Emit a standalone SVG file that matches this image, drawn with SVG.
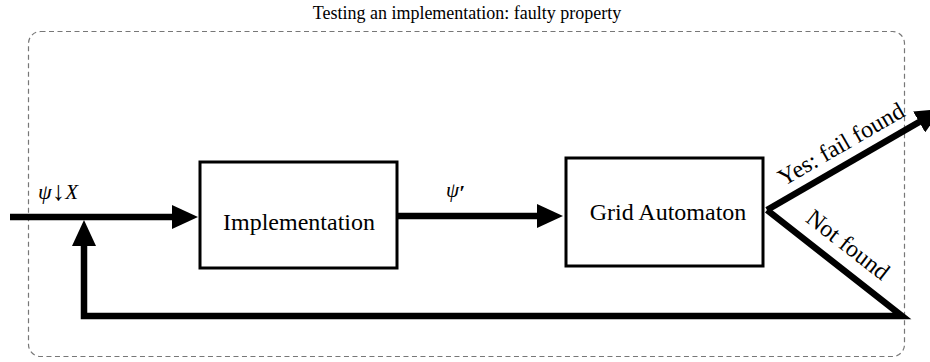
<svg xmlns="http://www.w3.org/2000/svg" width="930" height="362" viewBox="0 0 930 362">
<defs>
<style>
.t{font-family:"Liberation Serif","DejaVu Serif",serif;fill:#000}
.box{fill:#fff;stroke:#000;stroke-width:3}
.c{fill:none;stroke:#000;stroke-width:6.5;stroke-linejoin:miter}
</style>
<marker id="ah" markerUnits="userSpaceOnUse" viewBox="0 0 26 24" markerWidth="26" markerHeight="24" refX="16" refY="12" orient="auto">
<path d="M0,0 L26,12 L0,24 z" fill="#000"/>
</marker>
</defs>
<rect width="930" height="362" fill="#fff"/>
<text class="t" x="467" y="19" font-size="18" text-anchor="middle">Testing an implementation: faulty property</text>
<rect x="28.5" y="31.5" width="876" height="325" rx="12" fill="none" stroke="#777" stroke-width="1.2" stroke-dasharray="5,3.5"/>
<g id="connectors">
<line class="c" x1="10" y1="217" x2="188" y2="217" marker-end="url(#ah)"/>
<line class="c" x1="398" y1="216" x2="553" y2="216" marker-end="url(#ah)"/>
<polyline class="c" points="767,210 902,316 84,316 84,230" marker-end="url(#ah)"/>
<line class="c" x1="767" y1="210" x2="933" y2="114" marker-end="url(#ah)"/>
<text class="t" x="38" y="199" font-size="22"><tspan font-style="italic">ψ</tspan><tspan font-size="27" dy="1">↓</tspan><tspan font-style="italic" font-size="21" dy="-1">X</tspan></text>
<text class="t" x="446" y="197" font-size="21"><tspan font-style="italic">ψ</tspan><tspan font-weight="bold" font-style="italic" dy="3">′</tspan></text>
<text class="t" font-size="24" text-anchor="middle" transform="translate(845,151) rotate(-30)">Yes: fail found</text>
<text class="t" font-size="24" text-anchor="middle" transform="translate(843,251) rotate(38)">Not found</text>
</g>
<g id="implementation">
<rect class="box" x="200" y="162" width="197" height="106"/>
<text class="t" x="299" y="230" font-size="24" text-anchor="middle">Implementation</text>
</g>
<g id="grid-automaton">
<rect class="box" x="566" y="158" width="197" height="108"/>
<text class="t" x="668" y="220" font-size="24" text-anchor="middle">Grid Automaton</text>
</g>
</svg>
